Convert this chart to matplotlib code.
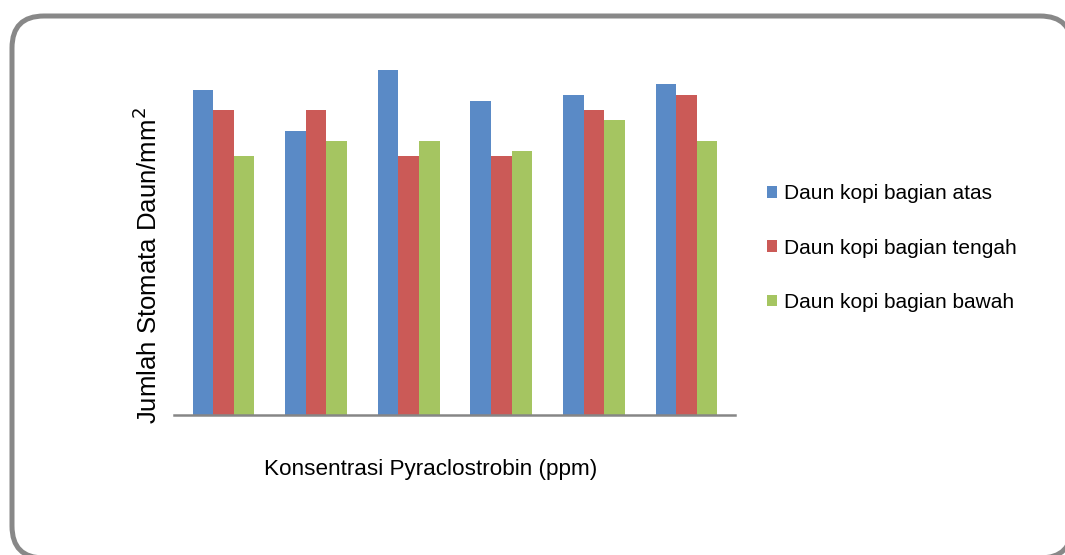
import numpy as np
import matplotlib.pyplot as plt
from matplotlib.patches import FancyBboxPatch, Patch

plt.rcParams['font.family'] = ['Liberation Sans', 'DejaVu Sans']

# data (arbitrary units, no y scale shown)
groups = ['1', '2', '3', '4', '5', '6']
atas = [325, 284, 345, 314, 320, 331]
tengah = [305, 305, 259, 259, 305, 320]
bawah = [259, 274, 274, 264, 295, 274]
series_names = ['Daun kopi bagian atas', 'Daun kopi bagian tengah', 'Daun kopi bagian bawah']
colors = ['#5A8AC6', '#CB5A57', '#A5C561']

W, H = 1065, 555
fig = plt.figure(figsize=(W / 100, H / 100), dpi=100)

# rounded frame around the chart (runs off the right and bottom edge)
frame = FancyBboxPatch((12 / W, 1 - 558 / H), 1060 / W, 542 / H,
                       boxstyle='round,pad=0,rounding_size=0.03',
                       transform=fig.transFigure, facecolor='white',
                       edgecolor='#888888', linewidth=3.6, zorder=-1,
                       mutation_aspect=W / H)
fig.patches.append(frame)

ax = fig.add_axes([174 / W, (H - 415) / H, 561 / W, 360 / H])
ax.patch.set_alpha(0)

x = np.arange(len(groups))
bw = 0.222
for i, vals in enumerate([atas, tengah, bawah]):
    ax.bar(x + (i - 1) * bw + 0.035, vals, width=bw, color=colors[i],
           edgecolor='none', label=series_names[i])

ax.set_xlim(-0.5, 5.56)
ax.set_ylim(0, 360)
for s in ['top', 'right', 'left']:
    ax.spines[s].set_visible(False)
ax.spines['bottom'].set_color('#868686')
ax.spines['bottom'].set_linewidth(1.8)
ax.set_xticks([])
ax.set_yticks([])

fig.text(148 / W, 1 - 266 / H, 'Jumlah Stomata Daun/mm$^2$', rotation=90,
         ha='center', va='center', fontsize=18.5)
fig.text(431 / W, 1 - 470 / H, 'Konsentrasi Pyraclostrobin (ppm)',
         ha='center', va='center', fontsize=16.2)

handles = [Patch(facecolor=c, edgecolor='none') for c in colors]
fig.legend(handles, series_names, loc='center left',
           bbox_to_anchor=(748 / W, 1 - 248 / H), frameon=False,
           fontsize=15, handlelength=0.5, handleheight=0.5,
           handletextpad=0.35, labelspacing=1.7)

fig.savefig('out.png', dpi=100)
